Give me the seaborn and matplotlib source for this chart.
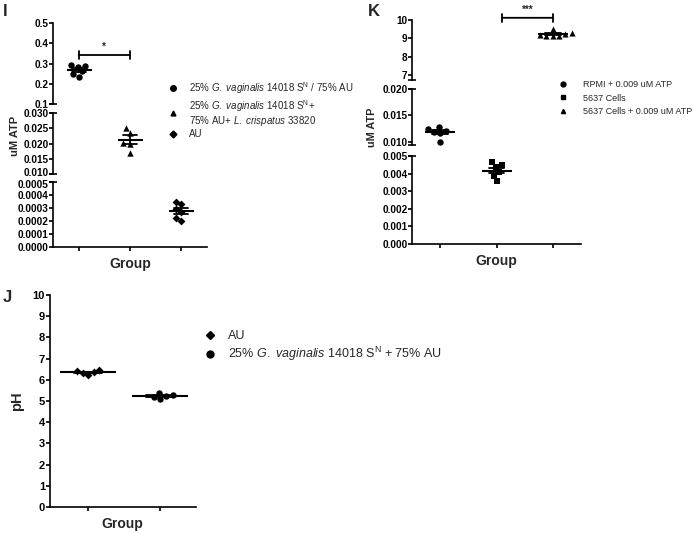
import numpy as np
import pandas as pd
import matplotlib
matplotlib.use("Agg")
import matplotlib.pyplot as plt
import matplotlib.transforms as mtransforms
import seaborn as sns
from matplotlib.lines import Line2D

sns.set_theme(style="ticks")
plt.rcParams["font.family"] = ["Liberation Sans", "DejaVu Sans"]
plt.rcParams["mathtext.fontset"] = "custom"
plt.rcParams["mathtext.rm"] = "Liberation Sans"
plt.rcParams["mathtext.it"] = "Liberation Sans:italic"
plt.rcParams["mathtext.bf"] = "Liberation Sans:bold"

# ---------------- data ----------------
# Panel I
i_groups = ["Gv SN / AU", "Gv SN + AU + Lc", "AU"]
i_gv = [0.290, 0.295, 0.285, 0.262, 0.248, 0.235]
i_gvlc = [0.0252, 0.0236, 0.0200, 0.0203, 0.0169]
i_au = [0.00033, 0.00035, 0.00029, 0.00027, 0.00020, 0.00022]
i_labels = [
    r"25% $\mathit{G.\ vaginalis}$ 14018 S$^{\mathrm{N}}$ / 75% AU",
    r"25% $\mathit{G.\ vaginalis}$ 14018 S$^{\mathrm{N}}$+" + "\n"
    + r"75% AU+ $\mathit{L.\ crispatus}$ 33820",
    "AU",
]
i_ticks_top = [0.1, 0.2, 0.3, 0.4, 0.5]
i_ticks_mid = [0.010, 0.015, 0.020, 0.025, 0.030]
i_ticks_bot = [0.0, 0.0001, 0.0002, 0.0003, 0.0004, 0.0005]
i_sig = (0, 1, 0.342, "*")

# Panel K
k_groups = ["RPMI + ATP", "5637", "5637 + ATP"]
k_rpmi = [0.0121, 0.0125, 0.0128, 0.0116, 0.0118, 0.0100]
k_cells = [0.00447, 0.00466, 0.00408, 0.00436, 0.00389, 0.00357]
k_cells_atp = [9.50, 9.30, 9.25, 9.20, 9.12, 9.12, 9.12]
k_labels = ["RPMI + 0.009 uM ATP", "5637 Cells", "5637 Cells + 0.009 uM ATP"]
k_ticks_top = [7, 8, 9, 10]
k_ticks_mid = [0.010, 0.015, 0.020]
k_ticks_bot = [0.000, 0.001, 0.002, 0.003, 0.004, 0.005]
k_sig = (1.1, 2.0, 10.12, "***")

# Panel J
j_groups = ["AU", "Gv SN + AU"]
j_au = [6.25, 6.30, 6.35, 6.40, 6.45]
j_gv = [5.10, 5.20, 5.25, 5.30, 5.40]
j_labels = ["AU", r"25% $\mathit{G.\ vaginalis}$ 14018 S$^{\mathrm{N}}$ + 75% AU"]
j_ticks = list(range(0, 11))

# ---------------- figure ----------------
W, H = 696, 534
fig = plt.figure(figsize=(W / 100, H / 100), dpi=100)


def px_axes(left, top, right, bottom):
    return fig.add_axes([left / W, 1 - bottom / H, (right - left) / W, (bottom - top) / H])


def style_axis(ax, bottom=False, fs=7.2):
    sns.despine(ax=ax, top=True, right=True, bottom=not bottom)
    for s in ["left", "bottom"]:
        ax.spines[s].set_linewidth(1.2)
        ax.spines[s].set_color("black")
    ax.tick_params(axis="y", length=2.6, width=1.2, labelsize=fs, pad=0.6, colors="black")
    for t in ax.get_yticklabels():
        t.set_fontweight("bold")
    if bottom:
        ax.tick_params(axis="x", length=3.0, width=1.2, labelbottom=False, colors="black")
    else:
        ax.tick_params(axis="x", bottom=False, labelbottom=False)
    ax.set_xlabel("")
    ax.set_ylabel("")
    ax.set_facecolor("none")


def draw_group(ax, values, group, order, marker, size, mean_w, capsize):
    df = pd.DataFrame({"group": [group] * len(values), "value": values})
    sns.swarmplot(data=df, x="group", y="value", order=order, marker=marker,
                  color="black", size=size, ax=ax, linewidth=0, zorder=2)
    sns.pointplot(data=df, x="group", y="value", order=order, errorbar="se",
                  capsize=capsize, marker="_", markersize=mean_w, markeredgewidth=1.5,
                  linestyle="none", color="black", err_kws={"linewidth": 1.3}, ax=ax,
                  zorder=3)


def set_ticks(ax, ticks, fmt):
    ax.set_yticks(ticks)
    ax.set_yticklabels([fmt.format(t) for t in ticks])


def sig_bar(ax, x0, x1, y, txt, fs):
    ax.annotate("", xy=(x0, y), xytext=(x1, y), xycoords="data",
                arrowprops=dict(arrowstyle="|-|,widthA=0.25,widthB=0.25", color="black", lw=1.3,
                                shrinkA=0, shrinkB=0), annotation_clip=False)
    ax.annotate(txt, xy=((x0 + x1) / 2, y), xytext=(0, 2), textcoords="offset points",
                ha="center", va="bottom", fontsize=fs, fontweight="bold",
                annotation_clip=False)


def break_mark(ax, where, half_px=4):
    """Short horizontal bar centred on the left spine at the axis end (axis break)."""
    yv = 0 if where == "bottom" else 1
    tr = ax.get_yaxis_transform()  # x in axes coords, y in axes? -> use transAxes instead
    width_px = ax.get_position().width * W
    f = half_px / width_px
    ax.plot([-f, f], [yv, yv], transform=ax.transAxes, color="black", lw=1.2,
            clip_on=False, solid_capstyle="butt")


def shift_label(ax, idx, dy_px):
    tick = ax.yaxis.get_major_ticks()[idx]
    off = mtransforms.ScaledTranslation(0, dy_px / 100, fig.dpi_scale_trans)
    tick.label1.set_transform(tick.label1.get_transform() + off)


# ---------- Panel I ----------
ixl, ixr = 53, 207
iaxT = px_axes(ixl, 23, ixr, 104)
iaxM = px_axes(ixl, 113, ixr, 174)
iaxB = px_axes(ixl, 182, ixr, 247)
draw_group(iaxT, i_gv, i_groups[0], i_groups, "o", 4.6, 18, 0.27)
draw_group(iaxM, i_gvlc, i_groups[1], i_groups, "^", 4.6, 18, 0.27)
draw_group(iaxB, i_au, i_groups[2], i_groups, "D", 4.0, 18, 0.27)
iaxT.set_ylim(0.1, 0.5)
iaxM.set_ylim(0.010, 0.030)
iaxB.set_ylim(0.0, 0.0005)
set_ticks(iaxT, i_ticks_top, "{:.1f}")
set_ticks(iaxM, i_ticks_mid, "{:.3f}")
set_ticks(iaxB, i_ticks_bot, "{:.4f}")
for ax in (iaxT, iaxM, iaxB):
    ax.set_xlim(-0.5, 2.5)
    style_axis(ax, bottom=(ax is iaxB), fs=7.2)
iaxB.set_xticks([0, 1, 2])
shift_label(iaxM, 0, 1.5)
shift_label(iaxB, len(i_ticks_bot) - 1, -1.5)
break_mark(iaxT, "bottom")
break_mark(iaxM, "top")
break_mark(iaxM, "bottom")
break_mark(iaxB, "top")
sig_bar(iaxT, i_sig[0], i_sig[1], i_sig[2], i_sig[3], 7)
iaxB.set_xlabel("Group", fontsize=10, fontweight="bold", labelpad=4)
fig.text(15 / W, 1 - 136 / H, "uM ATP", rotation=90, ha="center", va="center",
         fontsize=8, fontweight="bold")
fig.text(3 / W, 1 - 4 / H, "I", ha="left", va="top", fontsize=12, fontweight="bold")

i_handles = [Line2D([], [], marker=m, color="black", linestyle="none", markersize=ms)
             for m, ms in zip(["o", "^", "D"], [4, 3.5, 3.5])]
legI = fig.legend(i_handles, i_labels, loc="upper left", bbox_to_anchor=(169 / W, 1 - 80 / H),
                  frameon=False, borderpad=0, borderaxespad=0, handlelength=0.8,
                  handletextpad=1.3, fontsize=7, labelspacing=0.2)
for t in legI.get_texts():
    t.set_linespacing(1.0)

# ---------- Panel K ----------
kxl, kxr = 412, 581
kaxT = px_axes(kxl, 20, kxr, 80)
kaxM = px_axes(kxl, 89, kxr, 145)
kaxB = px_axes(kxl, 156, kxr, 244)
draw_group(kaxM, k_rpmi, k_groups[0], k_groups, "o", 4.6, 21.6, 0.28)
draw_group(kaxB, k_cells, k_groups[1], k_groups, "s", 4.4, 21.6, 0.28)
draw_group(kaxT, k_cells_atp, k_groups[2], k_groups, "^", 4.4, 21.6, 0.28)
kaxT.set_ylim(7 - 5 / 18.33, 10)
kaxM.set_ylim(0.010 - 3.3 / 5240, 0.020)
kaxB.set_ylim(0.0, 0.005)
set_ticks(kaxT, k_ticks_top, "{:d}")
set_ticks(kaxM, k_ticks_mid, "{:.3f}")
set_ticks(kaxB, k_ticks_bot, "{:.3f}")
for ax in (kaxT, kaxM, kaxB):
    ax.set_xlim(-0.5, 2.5)
    style_axis(ax, bottom=(ax is kaxB), fs=7.2)
kaxB.set_xticks([0, 1, 2])
break_mark(kaxT, "bottom")
break_mark(kaxM, "top")
break_mark(kaxM, "bottom")
break_mark(kaxB, "top")
sig_bar(kaxT, k_sig[0], k_sig[1], k_sig[2], k_sig[3], 7)
kaxB.set_xlabel("Group", fontsize=10, fontweight="bold", labelpad=4)
fig.text(372 / W, 1 - 127 / H, "uM ATP", rotation=90, ha="center", va="center",
         fontsize=7.8, fontweight="bold")
fig.text(368 / W, 1 - 4 / H, "K", ha="left", va="top", fontsize=12, fontweight="bold")

k_handles = [Line2D([], [], marker=m, color="black", linestyle="none", markersize=ms)
             for m, ms in zip(["o", "s", "^"], [3.5, 3.5, 3.0])]
legK = fig.legend(k_handles, k_labels, loc="upper left", bbox_to_anchor=(559 / W, 1 - 80 / H),
                  frameon=False, borderpad=0, borderaxespad=0, handlelength=0.8,
                  handletextpad=1.9, fontsize=6.5, labelspacing=0.5)

# ---------- Panel J ----------
jax = px_axes(49.5, 295, 196, 507)
draw_group(jax, j_au, j_groups[0], j_groups, "D", 4.0, 40, 0.39)
draw_group(jax, j_gv, j_groups[1], j_groups, "o", 4.6, 40, 0.39)
jax.set_ylim(0, 10)
set_ticks(jax, j_ticks, "{:d}")
jax.set_xlim(-0.54, 1.5)
style_axis(jax, bottom=True, fs=8)
jax.set_xticks([0, 1])
jax.set_xlabel("Group", fontsize=10, fontweight="bold", labelpad=4)
jax.set_ylabel("pH", fontsize=10.5, fontweight="bold", labelpad=6)
fig.text(3 / W, 1 - 290 / H, "J", ha="left", va="top", fontsize=12, fontweight="bold")

j_handles = [Line2D([], [], marker=m, color="black", linestyle="none", markersize=ms)
             for m, ms in zip(["D", "o"], [4.5, 5])]
legJ = fig.legend(j_handles, j_labels, loc="upper left", bbox_to_anchor=(205 / W, 1 - 330 / H),
                  frameon=False, borderpad=0, borderaxespad=0, handlelength=0.8,
                  handletextpad=1.0, fontsize=9, labelspacing=0.25)

fig.savefig("out.png", dpi=100)
